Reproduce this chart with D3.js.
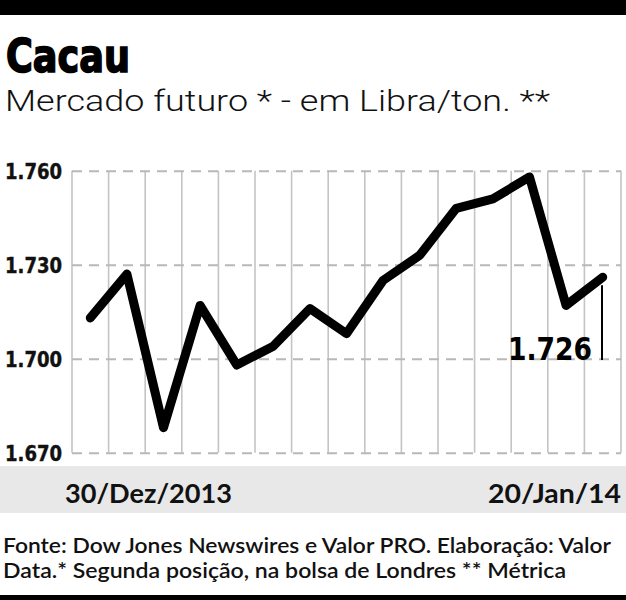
<!DOCTYPE html>
<html>
<head>
<meta charset="utf-8">
<script src="https://cdn.jsdelivr.net/npm/d3@7"></script>
<style>
  html, body { margin: 0; padding: 0; background: #fff; }
  svg { display: block; }
</style>
</head>
<body>
<svg id="chart" width="626" height="600"></svg>
<script>
// ---- data ----
const dates = ["30/12/2013","31/12/2013","02/01/2014","03/01/2014","06/01/2014","07/01/2014","08/01/2014",
               "09/01/2014","10/01/2014","13/01/2014","14/01/2014","15/01/2014","16/01/2014","17/01/2014","20/01/2014"];
const values = [1713, 1727, 1678, 1717, 1698, 1704, 1716, 1708, 1725, 1733, 1748, 1751, 1758, 1717, 1726];
const yTicks = [1670, 1700, 1730, 1760];
const dateLabels = ["30/Dez/2013", "20/Jan/14"];
const title = "Cacau";
const subtitle = "Mercado futuro * - em Libra/ton. **";
const lastLabel = "1.726";
const footer = ["Fonte: Dow Jones Newswires e Valor PRO. Elaboração: Valor",
                "Data.* Segunda posição, na bolsa de Londres ** Métrica"];

// ---- setup ----
const svg = d3.select("#chart");
const W = 626, H = 600;
const pLeft = 72, pRight = 621, pTop = 170.7, pBottom = 452.7;

const ptLocale = d3.formatLocale({decimal: ",", thousands: ".", grouping: [3], currency: ["R$", ""]});
const fmt = ptLocale.format(",d");

const x = d3.scaleBand().domain(dates).range([pLeft, pRight]);
const y = d3.scaleLinear().domain([1670, 1760]).range([pBottom, pTop]);
const cx = d => x(d) + x.bandwidth() / 2;

// top & bottom black bars
svg.append("rect").attr("x", 0).attr("y", 0).attr("width", W).attr("height", 15).attr("fill", "#000");
svg.append("rect").attr("x", 0).attr("y", 595).attr("width", W).attr("height", 5).attr("fill", "#000");

// title & subtitle
svg.append("text").attr("x", 6).attr("y", 72).text(title)
  .attr("font-family", "'DejaVu Sans Condensed', 'DejaVu Sans', sans-serif").attr("font-weight", "bold")
  .attr("font-size", 47).attr("fill", "#000").attr("stroke", "#000").attr("stroke-width", 1.6)
  .attr("textLength", 124).attr("lengthAdjust", "spacingAndGlyphs");
svg.append("text").attr("x", 5).attr("y", 111).text(subtitle)
  .attr("font-family", "Roboto, 'Open Sans', sans-serif").attr("font-weight", 300)
  .attr("font-size", 29).attr("fill", "#111")
  .attr("textLength", 545).attr("lengthAdjust", "spacingAndGlyphs");

// bottom gray band
svg.append("rect").attr("x", 0).attr("y", 466).attr("width", W).attr("height", 47).attr("fill", "#e8e8e8");

// vertical grid lines at band boundaries
const bounds = dates.map(d => x(d)).concat([x.range()[1]]);
svg.append("g").selectAll("line").data(bounds).join("line")
  .attr("x1", d => d).attr("x2", d => d)
  .attr("y1", pTop).attr("y2", pBottom)
  .attr("stroke", "#c4c4c4").attr("stroke-width", 1.6);

// y axis with dashed grid
const yAxis = d3.axisLeft(y).tickValues(yTicks).tickFormat(fmt)
  .tickSize(-(pRight - pLeft)).tickPadding(10);
const gy = svg.append("g").attr("transform", `translate(${pLeft},0)`).call(yAxis);
gy.select(".domain").remove();
gy.selectAll(".tick line").attr("stroke", "#b8b8b8").attr("stroke-width", 2)
  .attr("stroke-dasharray", "10,7");
gy.selectAll(".tick text")
  .attr("font-family", "'DejaVu Sans Condensed', 'DejaVu Sans', sans-serif").attr("font-weight", "bold")
  .attr("font-size", 21).attr("fill", "#111").attr("stroke", "#111").attr("stroke-width", 0.4)
  .attr("dy", "0.36em")
  .attr("textLength", 57).attr("lengthAdjust", "spacingAndGlyphs");

// the line
const line = d3.line().x((d, i) => cx(dates[i])).y(d => y(d));
svg.append("path").datum(values).attr("d", line)
  .attr("fill", "none").attr("stroke", "#000").attr("stroke-width", 9)
  .attr("stroke-linejoin", "round").attr("stroke-linecap", "round");

// last value label & leader
const lastI = values.length - 1;
const lx = cx(dates[lastI]) - 0.7;
svg.append("line").attr("x1", lx).attr("x2", lx)
  .attr("y1", y(values[lastI]) + 8).attr("y2", 360)
  .attr("stroke", "#000").attr("stroke-width", 2);
svg.append("text").attr("x", 592).attr("y", 360).attr("text-anchor", "end").text(lastLabel)
  .attr("font-family", "'DejaVu Sans Condensed', 'DejaVu Sans', sans-serif").attr("font-weight", "bold")
  .attr("font-size", 32).attr("fill", "#000")
  .attr("textLength", 84).attr("lengthAdjust", "spacingAndGlyphs");

// date labels
svg.append("text").attr("x", 65).attr("y", 503).text(dateLabels[0])
  .attr("font-family", "Lato, 'Open Sans', sans-serif").attr("font-weight", "bold")
  .attr("font-size", 27).attr("fill", "#111")
  .attr("textLength", 167).attr("lengthAdjust", "spacingAndGlyphs");
svg.append("text").attr("x", 621).attr("y", 503).attr("text-anchor", "end").text(dateLabels[1])
  .attr("font-family", "Lato, 'Open Sans', sans-serif").attr("font-weight", "bold")
  .attr("font-size", 27).attr("fill", "#111")
  .attr("textLength", 133).attr("lengthAdjust", "spacingAndGlyphs");

// footer
const footW = [608, 563];
svg.append("g").selectAll("text").data(footer).join("text")
  .attr("x", 3).attr("y", (d, i) => 553 + i * 25).text(d => d)
  .attr("font-family", "Lato, 'Open Sans', sans-serif").attr("font-weight", 600)
  .attr("font-size", 21).attr("fill", "#111")
  .attr("textLength", (d, i) => footW[i]).attr("lengthAdjust", "spacingAndGlyphs");
</script>
</body>
</html>
